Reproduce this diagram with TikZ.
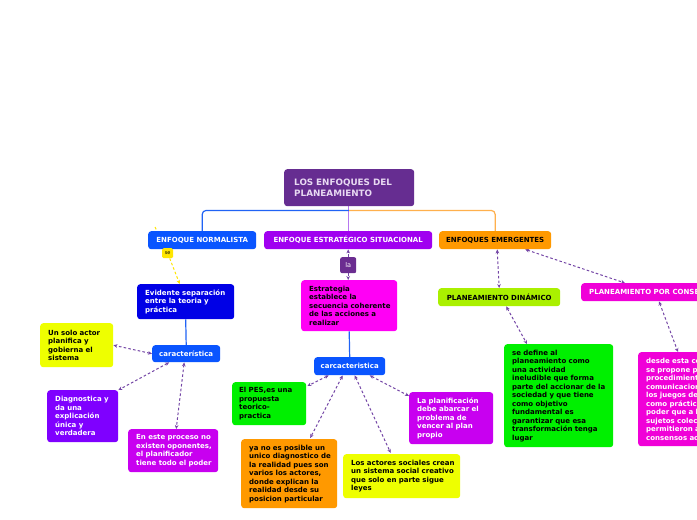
\documentclass[tikz,border=0pt]{standalone}
\usepackage{fontspec}
\setmainfont{DejaVu Sans}
\usetikzlibrary{arrows.meta,calc,backgrounds}
\pgfdeclarelayer{bottom}
\pgfsetlayers{bottom,background,main}
\definecolor{cTitle}{HTML}{662D91}
\definecolor{cTitleTxt}{HTML}{E8DAF2}
\definecolor{cBlue}{HTML}{0A55FF}
\definecolor{cDeepBlue}{HTML}{0000E6}
\definecolor{cPurple}{HTML}{A000F0}
\definecolor{cOrange}{HTML}{FF9900}
\definecolor{cLa}{HTML}{6B2D90}
\definecolor{cSe}{HTML}{FFE600}
\definecolor{cMagenta}{HTML}{FF00F5}
\definecolor{cYellow}{HTML}{EEFF00}
\definecolor{cViolet}{HTML}{7F00FF}
\definecolor{cOrchid}{HTML}{C800F0}
\definecolor{cGreen}{HTML}{00F000}
\definecolor{cLime}{HTML}{AAF000}
\definecolor{cPink}{HTML}{F000D8}
\definecolor{cDash}{HTML}{7446A6}
\definecolor{cLineBlue}{HTML}{2063F5}
\definecolor{cLinePurple}{HTML}{B678F0}
\definecolor{cLineOrange}{HTML}{FFB04D}
\newcommand{\mysmall}{\fontsize{7pt}{8.5pt}\selectfont\bfseries}
\newcommand{\mytitle}{\fontsize{8.8pt}{11.5pt}\selectfont\bfseries}
\newcommand{\lin}[1]{\mbox{#1}}
\begin{document}
\begin{tikzpicture}[x=1pt,y=-1pt,
  box/.style={rounded corners=3pt, inner xsep=8pt, inner ysep=2pt, font=\mysmall, align=left, anchor=north west},
  hdr/.style={rounded corners=3pt, inner sep=1pt, font=\mysmall, align=center, anchor=north west},
  dasharrow/.style={draw=cDash, line width=1pt, dash pattern=on 2.6pt off 2.2pt, {Stealth[length=4pt,width=3.6pt]}-{Stealth[length=4pt,width=3.6pt]}},
  onearrow/.style={draw=cDash, line width=1pt, dash pattern=on 2.6pt off 2.2pt, -{Stealth[length=4pt,width=3.6pt]}},
  yelarrow/.style={draw=cSe, line width=1pt, dash pattern=on 2.6pt off 2.2pt, -{Stealth[length=4pt,width=3.6pt]}},
  treeline/.style={line width=1.2pt, rounded corners=4pt}
]
\useasboundingbox (0,0) rectangle (697,520);
\begin{pgfonlayer}{bottom}
\fill[white] (0,0) rectangle (697,520);
\end{pgfonlayer}

% title
\node[box, fill=cTitle, text=cTitleTxt, font=\mytitle, inner xsep=10pt, text width=110pt, minimum height=37pt] (title) at (284,169) {\lin{LOS ENFOQUES DEL}\\\lin{PLANEAMIENTO}};

% level 1
\node[hdr, fill=cBlue, text=white, minimum width=108pt, minimum height=18pt] (norm) at (148,231) {ENFOQUE NORMALISTA};
\node[hdr, fill=cPurple, text=white, minimum width=168pt, minimum height=18pt] (estr) at (264,231) {ENFOQUE ESTRATÉGICO SITUACIONAL};
\node[hdr, fill=cOrange, text=black, minimum width=112pt, minimum height=18pt] (emer) at (439,231) {ENFOQUES EMERGENTES};

% labels
\node[hdr, fill=cSe, text=black, font=\fontsize{5pt}{6pt}\selectfont, rounded corners=1.5pt, minimum width=11pt, minimum height=10pt] (se) at (162,248) {se};
\node[hdr, fill=cLa, text=white, font=\fontsize{6.5pt}{7pt}\selectfont, rounded corners=2pt, minimum width=16pt, minimum height=16pt] (la) at (340,257) {la};

% normalista branch
\node[box, fill=cDeepBlue, text=white, text width=81pt, minimum height=35pt] (evid) at (137,284) {\lin{Evidente separación}\\\lin{entre la teoria y}\\\lin{práctica}};
\node[hdr, fill=cBlue, text=white, minimum width=68pt, minimum height=17pt] (car1) at (152,345) {característica};
\node[box, fill=cYellow, text=black, text width=57pt, minimum height=44pt] (unsolo) at (40,323) {\lin{Un solo actor}\\\lin{planifica y}\\\lin{gobierna el}\\\lin{sistema}};
\node[box, fill=cViolet, text=white, text width=55pt, minimum height=52pt] (diag) at (47,390) {\lin{Diagnostica y}\\\lin{da una}\\\lin{explicación}\\\lin{única y}\\\lin{verdadera}};
\node[box, fill=cOrchid, text=white, text width=74pt, minimum height=43pt] (enEste) at (128,429) {\lin{En este proceso no}\\\lin{existen oponentes,}\\\lin{el planificador}\\\lin{tiene todo el poder}};

% estrategico branch
\node[box, fill=cMagenta, text=black, text width=80pt, minimum height=51pt] (estrat) at (301,280) {\lin{Estrategia}\\\lin{establece la}\\\lin{secuencia coherente}\\\lin{de las acciones a}\\\lin{realizar}};
\node[hdr, fill=cBlue, text=white, minimum width=71pt, minimum height=18pt] (car2) at (314,357) {carcacteristica};
\node[box, fill=cGreen, text=black, inner xsep=7pt, text width=60pt, minimum height=43pt] (pes) at (232,382) {\lin{El PES,es una}\\\lin{propuesta}\\\lin{teorico-}\\\lin{practica}};
\node[box, fill=cOrange, text=black, text width=80pt, minimum height=69pt] (yano) at (241,439) {\lin{ya no es posible un}\\\lin{unico diagnostico de}\\\lin{la realidad pues son}\\\lin{varios los actores,}\\\lin{donde explican la}\\\lin{realidad desde su}\\\lin{posicion particular}};
\node[box, fill=cYellow, text=black, text width=101pt, minimum height=44pt] (losact) at (343,454) {\lin{Los actores sociales crean}\\\lin{un sistema social creativo}\\\lin{que solo en parte sigue}\\\lin{leyes}};
\node[box, fill=cOrchid, text=white, text width=68pt, minimum height=52pt] (laplan) at (409,392) {\lin{La planificación}\\\lin{debe abarcar el}\\\lin{problema de}\\\lin{vencer al plan}\\\lin{propio}};

% emergentes branch
\node[hdr, fill=cLime, text=black, minimum width=122pt, minimum height=18pt] (dinam) at (438,288) {PLANEAMIENTO DINÁMICO};
\node[box, fill=cPink, text=white, inner ysep=1pt, minimum height=18pt, align=center] (consenso) at (581,283) {PLANEAMIENTO POR CONSENSO};
\node[box, fill=cGreen, text=black, text width=93pt, minimum height=103pt] (sedef) at (504,344) {\lin{se define al}\\\lin{planeamiento como}\\\lin{una actividad}\\\lin{ineludible que forma}\\\lin{parte del accionar de la}\\\lin{sociedad y que tiene}\\\lin{como objetivo}\\\lin{fundamental es}\\\lin{garantizar que esa}\\\lin{transformación tenga}\\\lin{lugar}};
\node[box, fill=cPink, text=white, text width=96pt, minimum height=94pt] (desde) at (638,352) {\lin{desde esta concepción}\\\lin{se propone por}\\\lin{procedimientos}\\\lin{comunicacionales}\\\lin{los juegos del}\\\lin{como prácticas}\\\lin{poder que a los}\\\lin{sujetos colectivos}\\\lin{permitieron alcanzar}\\\lin{consensos acordados}};

\begin{scope}[on background layer]
% tree lines
\draw[treeline, cLinePurple] (estr.north) -- (estr.north |- title.south);
\draw[treeline, cLineBlue] ($(title.south)+(0,4)$) -| (norm.north);
\draw[treeline, cLineOrange] ($(title.south)+(0,4)$) -| (emer.north);
\draw[line width=1.2pt, cLineBlue] (evid.south) -- (car1.north);
\draw[line width=1.2pt, cLineBlue] (estrat.south) -- (car2.north);
% se connector
\draw[draw=cSe, line width=1pt, dash pattern=on 2.6pt off 2.2pt] ($(norm.north west)+(7,-4)$) -- (se);
\draw[yelarrow] (se) -- ($(evid.north)+(-6,0)$);
% la connector
\draw[onearrow] (la.north) -- (la.north |- estr.south);
\draw[onearrow] (la.south) -- (la.south |- estrat.north);
% normalista
\draw[dasharrow] (car1.west) -- (unsolo.east);
\draw[dasharrow] ($(car1.south)+(-17,0)$) -- (diag.north east);
\draw[dasharrow] ($(car1.south)+(-2,0)$) -- ($(enEste.north)+(3,0)$);
% estrategico
\draw[dasharrow] ($(car2.south)+(-21,0)$) -- ($(pes.north east)+(1,4)$);
\draw[dasharrow] ($(car2.south)+(-7,0)$) -- ($(yano.north)+(21,-1)$);
\draw[dasharrow] ($(car2.south)+(5,0)$) -- ($(losact.north)+(-11,-1)$);
\draw[dasharrow] ($(car2.south)+(20,0)$) -- ($(laplan.north west)+(0,4)$);
% emergentes
\draw[dasharrow] ($(emer.south)+(2,0)$) -- (dinam.north);
\draw[dasharrow] ($(emer.south)+(30,0)$) -- ($(consenso.north west)+(44,0)$);
\draw[dasharrow] ($(dinam.south)+(7,0)$) -- ($(sedef.north west)+(23,0)$);
\draw[dasharrow] ($(consenso.south west)+(78,0)$) -- ($(desde.north west)+(40,0)$);
\end{scope}
\end{tikzpicture}
\end{document}
